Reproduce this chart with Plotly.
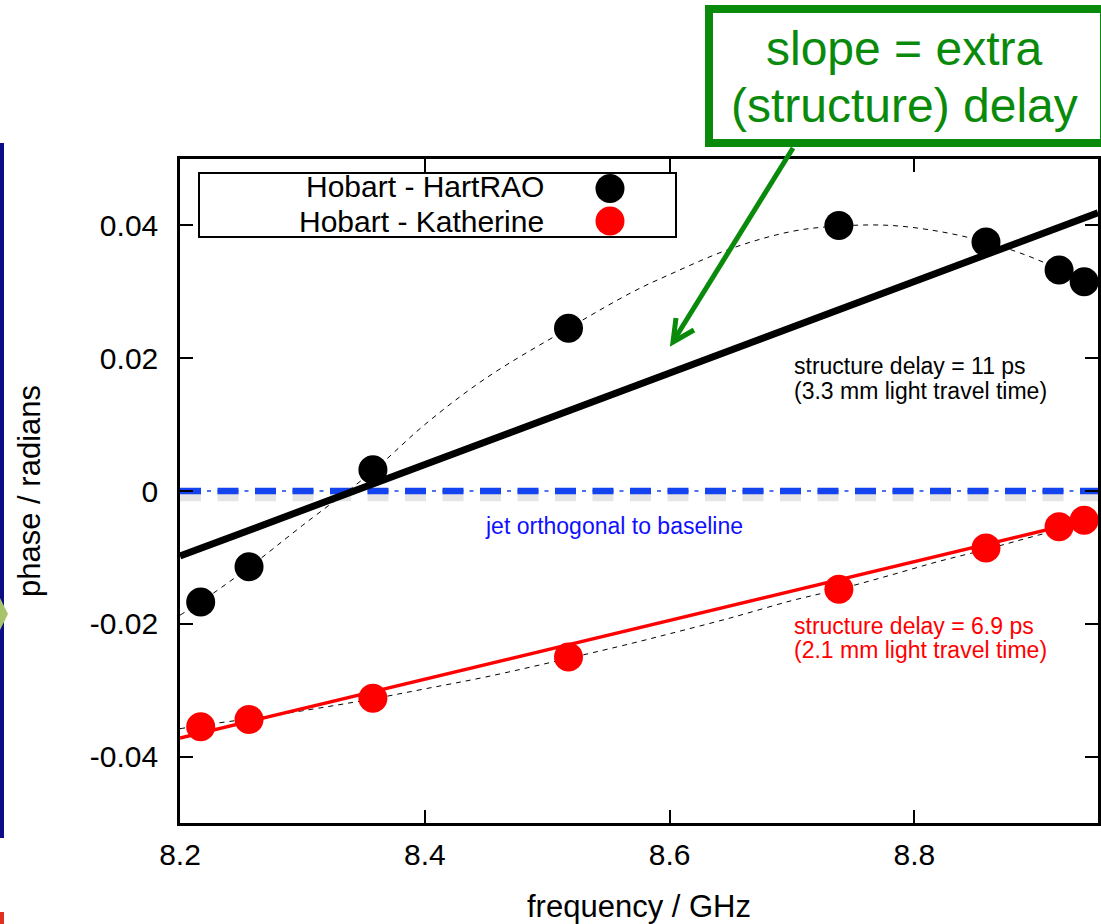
import plotly.graph_objects as go

# ---------------- data ----------------
freq_ghz = [8.2169, 8.2564, 8.3576, 8.5174, 8.7383, 8.8585, 8.9182, 8.9387]
phase_hartrao = [-0.0167, -0.0114, 0.0032, 0.0245, 0.0400, 0.0375, 0.0333, 0.0315]
phase_katherine = [-0.0355, -0.0344, -0.0312, -0.0250, -0.0148, -0.0086, -0.0054, -0.0044]

fit_freq = [8.2, 8.95]
fit_hartrao = [-0.0098, 0.0419]
fit_katherine = [-0.0372, -0.0040]

curve_freq = [8.2, 8.2169, 8.2564, 8.3, 8.3576, 8.4, 8.45, 8.5174, 8.57, 8.6, 8.65,
              8.7, 8.7383, 8.78, 8.82, 8.8585, 8.89, 8.9182, 8.9387, 8.95]
curve_hartrao = [-0.0187, -0.0167, -0.0115, -0.0052, 0.0030, 0.0100, 0.0170, 0.0245,
                 0.0300, 0.0326, 0.0365, 0.0391, 0.0399, 0.0400, 0.0391, 0.0375,
                 0.0356, 0.0334, 0.0315, 0.0303]
curve_katherine = [-0.0358, -0.0353, -0.0343, -0.0331, -0.0313, -0.0298, -0.0280, -0.0252,
                   -0.0229, -0.0215, -0.0191, -0.0165, -0.0148, -0.0127, -0.0106, -0.0088,
                   -0.0072, -0.0058, -0.0046, -0.0040]

zero_freq = [8.2, 8.95]
zero_phase = [0.0, 0.0]

x_ticks = [8.2, 8.4, 8.6, 8.8]
x_tick_text = ["8.2", "8.4", "8.6", "8.8"]
y_ticks = [-0.04, -0.02, 0.0, 0.02, 0.04]
y_tick_text = ["-0.04", "-0.02", "0", "0.02", "0.04"]

series_names = ["Hobart - HartRAO", "Hobart - Katherine"]

# ---------------- styling ----------------
FONT = "Liberation Sans, Arial, Helvetica, sans-serif"
W, H = 1101, 924
L, R, T, B = 180, 1098, 159, 823  # plot area in pixels
GREEN = "#0a8a0a"
BLUE = "#1443f0"
RED = "#ff0000"


def px(x):
    return (x - L) / (R - L)


def py(y):
    return (B - y) / (B - T)


fig = go.Figure()

# zero reference line: shadow, thin dash-dot, thick dashes
fig.add_trace(go.Scatter(x=zero_freq, y=[v - 0.0008 for v in zero_phase], mode="lines",
                         line=dict(color="rgba(0,0,0,0.10)", width=10, dash="21px,16.5px"),
                         hoverinfo="skip"))
fig.add_trace(go.Scatter(x=zero_freq, y=zero_phase, mode="lines",
                         line=dict(color=BLUE, width=1.5, dash="21px,6px,4px,6.5px"),
                         hoverinfo="skip"))
fig.add_trace(go.Scatter(x=zero_freq, y=zero_phase, mode="lines",
                         line=dict(color=BLUE, width=6.5, dash="21px,16.5px"),
                         hoverinfo="skip"))

# thin dashed smooth curves
fig.add_trace(go.Scatter(x=curve_freq, y=curve_hartrao, mode="lines", line_shape="spline",
                         line=dict(color="black", width=1, dash="5px,5px"), hoverinfo="skip"))
fig.add_trace(go.Scatter(x=curve_freq, y=curve_katherine, mode="lines", line_shape="spline",
                         line=dict(color="black", width=1, dash="5px,5px"), hoverinfo="skip"))

# linear fits
fig.add_trace(go.Scatter(x=fit_freq, y=fit_hartrao, mode="lines",
                         line=dict(color="black", width=7), hoverinfo="skip"))
fig.add_trace(go.Scatter(x=fit_freq, y=fit_katherine, mode="lines",
                         line=dict(color=RED, width=3.5), hoverinfo="skip"))

# data points
fig.add_trace(go.Scatter(x=freq_ghz, y=phase_hartrao, mode="markers", name=series_names[0],
                         marker=dict(color="black", size=29, line=dict(width=0)), cliponaxis=False))
fig.add_trace(go.Scatter(x=freq_ghz, y=phase_katherine, mode="markers", name=series_names[1],
                         marker=dict(color=RED, size=29, line=dict(width=0)), cliponaxis=False))

axis_common = dict(showline=True, linecolor="black", linewidth=2.5, mirror="ticks",
                   ticks="inside", ticklen=13, tickwidth=2, tickcolor="black",
                   showgrid=False, zeroline=False,
                   tickfont=dict(family=FONT, size=30, color="black"))

fig.update_xaxes(range=[8.2, 8.95], tickvals=x_ticks, ticktext=x_tick_text,
                 ticklabelstandoff=3,
                 title=dict(text="frequency / GHz", font=dict(family=FONT, size=31, color="black"),
                            standoff=29),
                 **axis_common)
fig.update_yaxes(range=[-0.05, 0.05], tickvals=y_ticks, ticktext=y_tick_text,
                 ticklabelstandoff=13,
                 title=dict(text="phase / radians", font=dict(family=FONT, size=31, color="black"),
                            standoff=41),
                 **axis_common)

shapes = []
annotations = []

# legend box (symbols on the right, like the original)
shapes.append(dict(type="rect", xref="paper", yref="paper", x0=px(199), x1=px(676),
                   y0=py(237), y1=py(173), line=dict(color="black", width=2),
                   fillcolor="white", layer="above"))
for name, col, cy, my in [(series_names[0], "black", 187, 188.5),
                          (series_names[1], RED, 221.5, 221)]:
    annotations.append(dict(xref="paper", yref="paper", x=px(545), y=py(cy), text=name,
                            xanchor="right", yanchor="middle", showarrow=False, borderpad=0,
                            font=dict(family=FONT, size=30, color="black")))
    shapes.append(dict(type="circle", xref="paper", yref="paper",
                       x0=px(610 - 14.5), x1=px(610 + 14.5), y0=py(my + 14.5), y1=py(my - 14.5),
                       fillcolor=col, line=dict(width=0), layer="above"))

# text annotations inside the plot
def text_line(x, y, s, color, size, anchor="left"):
    annotations.append(dict(xref="paper", yref="paper", x=px(x), y=py(y), text=s,
                            xanchor=anchor, yanchor="middle", showarrow=False, borderpad=0,
                            font=dict(family=FONT, size=size, color=color)))

text_line(793, 365.5, "structure delay = 11 ps", "black", 23)
text_line(793, 390.5, "(3.3 mm light travel time)", "black", 23)
text_line(793, 625.5, "structure delay = 6.9 ps", RED, 23)
text_line(793, 650, "(2.1 mm light travel time)", RED, 23)
text_line(614, 525.5, "jet orthogonal to baseline", "#1010ff", 23, anchor="center")

# green callout box
shapes.append(dict(type="rect", xref="paper", yref="paper", x0=px(709), x1=px(1104),
                   y0=py(143), y1=py(9), line=dict(color=GREEN, width=8), fillcolor="white"))
text_line(904, 48.5, "slope = extra", GREEN, 48, anchor="center")
text_line(904, 105, "(structure) delay", GREEN, 48, anchor="center")

# green arrow (line + open chevron head)
shapes.append(dict(type="line", xref="paper", yref="paper", x0=px(793), y0=py(148),
                   x1=px(674), y1=py(340), line=dict(color=GREEN, width=5)))
shapes.append(dict(type="path", xref="paper", yref="paper",
                   path=f"M {px(676)},{py(318)} L {px(673)},{py(342)} L {px(694)},{py(330)}",
                   line=dict(color=GREEN, width=5)))

# cropped slide fragments at the left edge
shapes.append(dict(type="rect", xref="paper", yref="paper", x0=px(-1), x1=px(4),
                   y0=py(838), y1=py(143), line=dict(width=0), fillcolor="#0c0c86"))
shapes.append(dict(type="path", xref="paper", yref="paper",
                   path=f"M {px(0)},{py(598)} L {px(8)},{py(614)} L {px(0)},{py(630)} Z",
                   line=dict(width=0), fillcolor="#a7c46a"))
shapes.append(dict(type="rect", xref="paper", yref="paper", x0=px(-1), x1=px(4),
                   y0=py(924), y1=py(912), line=dict(width=0), fillcolor="#e03020"))

fig.update_layout(width=W, height=H, margin=dict(l=L, r=W - R, t=T, b=H - B, autoexpand=False),
                  plot_bgcolor="white", paper_bgcolor="white", showlegend=False,
                  font=dict(family=FONT, color="black"), shapes=shapes, annotations=annotations)

fig.write_html("out.html")
